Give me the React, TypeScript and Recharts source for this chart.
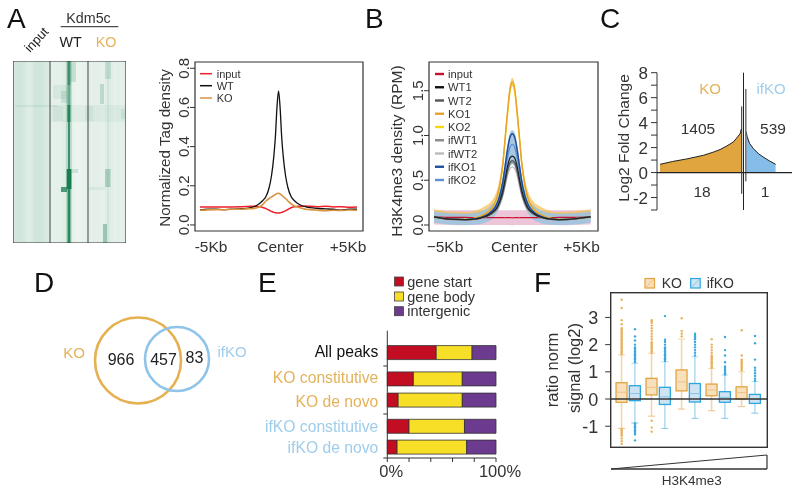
import React from 'react'
import {
  Area,
  AreaChart,
  Bar,
  BarChart,
  ComposedChart,
  Line,
  ReferenceArea,
  ReferenceLine,
  Scatter,
  ScatterChart,
  XAxis,
  YAxis,
} from 'recharts'

const FONT = '"Liberation Sans", Arial, sans-serif'
const KO_TEXT = '#E4B25A'
const IFKO_TEXT = '#9FCDEC'
const DARK = '#333'

// panel A heatmap, one shade per column plus darker patches
const heatColumns = [
  0.12, 0.14, 0.15, 0.15, 0.14, 0.13, 0.1, 0.09, 0.09, 0.1, 0.14, 0.15, 0.15, 0.15, 0.14, 0.13, 0.12, 0.1, 0.08,
  0.05, 0.06, 0.06, 0.06, 0.06, 0.07, 0.08, 0.1, 0.1, 0.1, 0.05, 0.04, 0.03, 0.03, 0.03, 0.04, 0.04, 0.05, 0.06,
  0.07, 0.06, 0.07, 0.06, 0.07, 0.06, 0.06, 0.06, 0.08, 0.15, 0.09, 0.07, 0.06, 0.06, 0.07, 0.06, 0.06, 0.07,
]
// x1, x2, y1, y2, shade
const heatPatches = [
  [53, 59, 0, 182, 0.16],
  [38, 113, 44, 61, 0.05],
  [40, 50, 45, 60, 0.05],
  [72, 80, 45, 60, 0.06],
  [108, 112, 48, 58, 0.09],
  [2, 45, 44.5, 45.5, 0.14],
  [40, 54, 24, 38, 0.07],
  [48, 54, 30, 42, 0.12],
  [57.5, 63, 1, 21, 0.16],
  [54.4, 57.4, 0, 24, 0.72],
  [54.4, 57.4, 24, 44, 0.45],
  [54.4, 57.4, 44, 61, 0.85],
  [55, 57, 61, 108, 0.72],
  [53.7, 58.4, 108, 128, 0.92],
  [54.6, 57.4, 128, 182, 0.82],
  [48, 54, 126, 131, 0.7],
  [58.5, 65, 108, 112, 0.14],
  [92, 98, 1, 18, 0.14],
  [87, 91, 23, 43, 0.18],
  [92, 97.5, 108, 126, 0.26],
  [90, 94, 163, 182, 0.34],
  [76, 92, 126, 129, 0.06],
]

// panel A profiles
const aX = [
  -5, -4.5, -4, -3.5, -3, -2.5, -2, -1.75, -1.5, -1.25, -1, -0.8, -0.6, -0.45, -0.3, -0.2, -0.1, 0, 0.1, 0.2, 0.3,
  0.45, 0.6, 0.8, 1, 1.25, 1.5, 1.75, 2, 2.5, 3, 3.5, 4, 4.5, 5,
]
const aInput = [
  0.092, 0.091, 0.092, 0.091, 0.092, 0.093, 0.094, 0.095, 0.096, 0.093, 0.089, 0.083, 0.075, 0.069, 0.064, 0.062,
  0.061, 0.061, 0.062, 0.064, 0.067, 0.072, 0.079, 0.088, 0.093, 0.096, 0.095, 0.097, 0.095, 0.093, 0.095, 0.092,
  0.093, 0.09, 0.092,
]
const aWT = [
  0.077, 0.08, 0.08, 0.078, 0.08, 0.082, 0.085, 0.088, 0.095, 0.107, 0.125, 0.145, 0.19, 0.25, 0.35, 0.45, 0.6,
  0.685, 0.6, 0.45, 0.35, 0.25, 0.19, 0.145, 0.125, 0.108, 0.098, 0.092, 0.088, 0.084, 0.082, 0.08, 0.076, 0.08, 0.08,
]
const aKO = [
  0.075, 0.077, 0.078, 0.077, 0.08, 0.08, 0.082, 0.083, 0.086, 0.09, 0.105, 0.122, 0.135, 0.143, 0.15, 0.155, 0.16,
  0.162, 0.158, 0.152, 0.145, 0.135, 0.122, 0.108, 0.097, 0.09, 0.085, 0.08, 0.078, 0.075, 0.073, 0.075, 0.074, 0.076,
  0.075,
]

// panel B profiles
const bX = [-5, -4, -3, -2.5, -2, -1.6, -1.3, -1, -0.8, -0.6, -0.45, -0.3, -0.15, 0, 0.15, 0.3, 0.45, 0.6, 0.8, 1, 1.3, 1.6, 2, 2.5, 3, 4, 5]
const bInput = [0.09, 0.085, 0.085, 0.083, 0.083, 0.083, 0.082, 0.082, 0.082, 0.082, 0.081, 0.082, 0.082, 0.08, 0.082, 0.082, 0.081, 0.082, 0.082, 0.082, 0.082, 0.083, 0.083, 0.083, 0.085, 0.085, 0.09]
const bWT1 = [0.09, 0.065, 0.06, 0.065, 0.08, 0.105, 0.14, 0.19, 0.27, 0.39, 0.52, 0.66, 0.75, 0.77, 0.75, 0.66, 0.52, 0.39, 0.27, 0.19, 0.14, 0.105, 0.08, 0.065, 0.06, 0.07, 0.09]
const bWT2 = [0.09, 0.065, 0.06, 0.064, 0.078, 0.1, 0.13, 0.18, 0.25, 0.36, 0.49, 0.62, 0.7, 0.72, 0.7, 0.62, 0.49, 0.36, 0.25, 0.18, 0.13, 0.1, 0.078, 0.064, 0.06, 0.07, 0.09]
const bKO1 = [0.09, 0.065, 0.06, 0.07, 0.1, 0.14, 0.19, 0.3, 0.45, 0.7, 0.99, 1.28, 1.52, 1.6, 1.52, 1.28, 0.99, 0.7, 0.45, 0.3, 0.19, 0.14, 0.1, 0.07, 0.06, 0.07, 0.09]
const bKO2 = [0.09, 0.066, 0.062, 0.072, 0.1, 0.14, 0.19, 0.29, 0.44, 0.68, 0.97, 1.25, 1.49, 1.57, 1.49, 1.25, 0.97, 0.68, 0.44, 0.29, 0.19, 0.14, 0.1, 0.072, 0.062, 0.07, 0.09]
const bIfWT1 = [0.09, 0.066, 0.06, 0.064, 0.077, 0.1, 0.13, 0.175, 0.245, 0.35, 0.47, 0.6, 0.68, 0.7, 0.68, 0.6, 0.47, 0.35, 0.245, 0.175, 0.13, 0.1, 0.077, 0.064, 0.06, 0.07, 0.09]
const bIfWT2 = [0.09, 0.066, 0.06, 0.063, 0.075, 0.095, 0.12, 0.165, 0.23, 0.33, 0.44, 0.56, 0.63, 0.65, 0.63, 0.56, 0.44, 0.33, 0.23, 0.165, 0.12, 0.095, 0.075, 0.063, 0.06, 0.07, 0.09]
const bIfKO1 = [0.09, 0.065, 0.06, 0.065, 0.085, 0.115, 0.155, 0.23, 0.33, 0.49, 0.67, 0.85, 0.98, 1.02, 0.98, 0.85, 0.67, 0.49, 0.33, 0.23, 0.155, 0.115, 0.085, 0.065, 0.06, 0.07, 0.09]
const bIfKO2 = [0.09, 0.065, 0.06, 0.065, 0.082, 0.11, 0.145, 0.21, 0.3, 0.44, 0.6, 0.76, 0.87, 0.9, 0.87, 0.76, 0.6, 0.44, 0.3, 0.21, 0.145, 0.11, 0.082, 0.065, 0.06, 0.07, 0.09]
const bKoLow = [0.075, 0.05, 0.045, 0.055, 0.08, 0.11, 0.15, 0.25, 0.39, 0.64, 0.93, 1.22, 1.47, 1.55, 1.47, 1.22, 0.93, 0.64, 0.39, 0.25, 0.15, 0.11, 0.08, 0.055, 0.045, 0.055, 0.075]
const bKoHigh = [0.175, 0.15, 0.145, 0.155, 0.185, 0.225, 0.275, 0.38, 0.52, 0.76, 1.05, 1.33, 1.57, 1.645, 1.57, 1.33, 1.05, 0.76, 0.52, 0.38, 0.275, 0.225, 0.185, 0.155, 0.145, 0.155, 0.175]
const bBlueLow = [0.025, 0.005, 0, 0.002, 0.01, 0.035, 0.065, 0.13, 0.2, 0.31, 0.44, 0.55, 0.65, 0.68, 0.65, 0.55, 0.44, 0.31, 0.2, 0.13, 0.065, 0.035, 0.01, 0.002, 0, 0.005, 0.025]
const bBlueHigh = [0.15, 0.13, 0.125, 0.13, 0.15, 0.185, 0.225, 0.29, 0.39, 0.55, 0.73, 0.91, 1.03, 1.06, 1.03, 0.91, 0.73, 0.55, 0.39, 0.29, 0.225, 0.185, 0.15, 0.13, 0.125, 0.13, 0.15]
const bInputLow = [0.005, 0, -0.002, 0, 0, 0, 0, 0, 0, 0, 0, 0, 0, -0.005, 0, 0, 0, 0, 0, 0, 0, 0, 0, 0, -0.002, 0, 0.005]
const bInputHigh = [0.165, 0.165, 0.165, 0.165, 0.165, 0.165, 0.165, 0.165, 0.165, 0.165, 0.165, 0.165, 0.165, 0.165, 0.165, 0.165, 0.165, 0.165, 0.165, 0.165, 0.165, 0.165, 0.165, 0.165, 0.165, 0.165, 0.165]

// panel C, signed gene rank out from the centre line
const cKoRank = [-1405, -1200, -956, -800, -676, -500, -395, -280, -171, -100, -59, -36]
const cKoFold = [0.66, 0.88, 1.09, 1.25, 1.38, 1.65, 1.84, 2.13, 2.45, 2.85, 3.1, 3.5]
const cIfkoRank = [44, 60, 100, 165, 250, 330, 430, 540]
const cIfkoFold = [3.3, 2.9, 2.35, 1.92, 1.52, 1.25, 0.95, 0.66]
const cKoSpike = [-1.7, 5.3]
const cIfkoSpike = [-0.7, 6.7]

// panel D, overlap circles
const vennX = [58, 97]
const vennY = [60.5, 59]
const vennR = [43, 32]

// panel E
const peakGroups = ['All peaks', 'KO constitutive', 'KO de novo', 'ifKO constitutive', 'ifKO de novo']
const geneStart = [45, 24, 10, 20, 9]
const geneBody = [33, 45, 59, 51, 64]
const intergenic = [22, 31, 31, 29, 27]

// panel F
const fGroups = [1, 2, 3, 4, 5]
const fKoQ1 = [-0.12, 0.15, 0.3, 0.12, 0]
const fKoMed = [0.25, 0.43, 0.63, 0.33, 0.24]
const fKoQ3 = [0.6, 0.76, 1.07, 0.55, 0.45]
const fKoLow = [-1.08, -0.63, -0.37, -0.43, -0.28]
const fKoHigh = [1.62, 1.68, 2.2, 1.13, 1.0]
const fIfkoQ1 = [-0.06, -0.2, -0.11, -0.12, -0.16]
const fIfkoMed = [0.2, 0.08, 0.2, 0.06, -0.01]
const fIfkoQ3 = [0.49, 0.43, 0.57, 0.27, 0.17]
const fIfkoLow = [-0.88, -1.08, -0.71, -0.71, -0.52]
const fIfkoHigh = [1.31, 1.37, 1.55, 0.88, 0.64]
const fKoOut = [
  [1.65, 1.7, 1.75, 1.8, 1.85, 1.9, 1.95, 2, 2.05, 2.1, 2.15, 2.2, 2.25, 2.3, 2.35, 2.4, 2.45, 2.5, 2.55, 2.6, 2.75, 2.9, 3.35, 3.65, -1.1, -1.15, -1.2, -1.25, -1.3, -1.35, -1.45, -1.55, -1.65],
  [1.7, 1.75, 1.8, 1.85, 1.9, 1.95, 2, 2.05, 2.1, 2.2, 2.3, 2.4, 2.5, 2.6, 2.7, 2.8, 2.85, 2.9, -0.8, -1.05, -1.2],
  [2.3, 2.4, 2.5, 2.97],
  [1.15, 1.2, 1.25, 1.3, 1.35, 1.4, 1.45, 1.5, 1.55, 1.6, 1.7, 1.8, 1.9, 2, 2.2],
  [1.05, 1.1, 1.15, 1.2, 1.25, 1.3, 1.35, 1.4, 1.45, 1.6, 2.53],
]
const fIfkoOut = [
  [1.35, 1.4, 1.45, 1.5, 1.55, 1.6, 1.65, 1.7, 1.75, 1.8, 1.85, 1.9, 2, 2.15, 2.3, 2.57, -0.9, -0.95, -1, -1.05, -1.1, -1.15, -1.2, -1.25, -1.3, -1.52],
  [1.4, 1.45, 1.5, 1.55, 1.6, 1.65, 1.7, 1.75, 1.8, 1.85, 1.9, 2, 2.1, 2.18, 3.05],
  [1.6, 1.7, 1.8, 1.9, 2, 2.1, 2.2, 2.25, 2.3, 2.35, 2.4],
  [0.9, 0.95, 1, 1.05, 1.1, 1.15, 1.2, 1.35, 1.6, 1.8, 2.28],
  [0.67, 0.75, 0.85, 0.95, 1.05, 1.15, 1.45, 2.05, 2.32],
]
const gradientX = [0, 1]
const gradientY = [0, 1]

const aRows = aX.map((x, i) => ({ x, input: aInput[i], wt: aWT[i], ko: aKO[i] }))

const bRows = bX.map((x, i) => ({
  x,
  input: bInput[i],
  wt1: bWT1[i],
  wt2: bWT2[i],
  ko1: bKO1[i],
  ko2: bKO2[i],
  ifwt1: bIfWT1[i],
  ifwt2: bIfWT2[i],
  ifko1: bIfKO1[i],
  ifko2: bIfKO2[i],
  inputBand: [bInputLow[i], bInputHigh[i]],
  koBand: [bKoLow[i], bKoHigh[i]],
  blueBand: [bBlueLow[i], bBlueHigh[i]],
}))

const cRows = [
  ...cKoRank.map((x, i) => ({ x, ko: cKoFold[i], ifko: null as number | null })),
  ...cIfkoRank.map((x, i) => ({ x, ko: null as number | null, ifko: cIfkoFold[i] })),
]

const vennRows = vennX.map((x, i) => ({ x, y: vennY[i], r: vennR[i], color: i === 0 ? '#E5B04F' : '#8FC4EA' }))

// row centres are laid out in px below the top of the axis, the groups sit closer together
const E_ROW_Y = [22.3, 48.6, 69.8, 96, 116.8]
const E_SPLIT_Y = [35.3, 83.3, 127.3]
const E_LABEL_DY = [4.3, 4, 6, 5, 5]
const E_LABEL_COLOR = ['#111', KO_TEXT, KO_TEXT, IFKO_TEXT, IFKO_TEXT]
const eRows = peakGroups.map((name, i) => ({
  name,
  row: E_ROW_Y[i],
  start: geneStart[i],
  body: geneBody[i],
  inter: intergenic[i],
}))

const DODGE = 0.222
const fBoxes = fGroups.flatMap((g, i) => [
  { pos: g - DODGE, range: [fKoQ1[i], fKoQ3[i]], med: fKoMed[i], low: fKoLow[i], high: fKoHigh[i], ko: true },
  { pos: g + DODGE, range: [fIfkoQ1[i], fIfkoQ3[i]], med: fIfkoMed[i], low: fIfkoLow[i], high: fIfkoHigh[i], ko: false },
])
const fKoDots = fGroups.flatMap((g, i) => fKoOut[i].map((v) => ({ pos: g - DODGE, v })))
const fIfkoDots = fGroups.flatMap((g, i) => fIfkoOut[i].map((v) => ({ pos: g + DODGE, v })))

const gradientRows = gradientX.map((x, i) => ({ x, y: gradientY[i] }))

function Place({ left, top, width, height, children }: any) {
  return <div style={{ position: 'absolute', left, top, width, height }}>{children}</div>
}

// rotated R style tick, draws its own tick mark
function RotatedTick({ x, y, payload }: any) {
  return (
    <g>
      <line x1={x + 1} x2={x + 6} y1={y} y2={y} stroke={DARK} strokeWidth={1} />
      <text x={x} y={y} transform={`rotate(-90 ${x} ${y})`} textAnchor="middle" fontSize={15} fill={DARK} fontFamily={FONT}>
        {payload.value.toFixed(1)}
      </text>
    </g>
  )
}

// the three labels under the profile plots sit off their nominal positions
function ProfileXTick({ x, y, payload, minus }: any) {
  const v = payload.value
  const label = v < 0 ? `${minus}5Kb` : v > 0 ? '+5Kb' : 'Center'
  const dx = v < 0 ? 11 : v > 0 ? -9 : 2
  return (
    <text x={x + dx} y={y + 13} textAnchor="middle" fontSize={15.5} fill={DARK} fontFamily={FONT}>
      {label}
    </text>
  )
}

function HeatPanel() {
  return (
    <ComposedChart width={113} height={182} data={heatColumns.map((v, i) => ({ c: i, v }))} margin={{ top: 0, right: 0, bottom: 0, left: 0 }}>
      <XAxis hide type="number" dataKey="c" domain={[0, 113]} allowDataOverflow />
      <YAxis hide type="number" domain={[0, 182]} reversed allowDataOverflow />
      {heatColumns.map((v, i) => (
        <ReferenceArea key={i} x1={i * 2} x2={i * 2 + 2} y1={0} y2={182} fill="#0b7d4a" fillOpacity={v} stroke="none" />
      ))}
      {heatPatches.map((p, i) => (
        <ReferenceArea key={i} x1={p[0]} x2={p[1]} y1={p[2]} y2={p[3]} fill="#0b7546" fillOpacity={p[4]} stroke="none" />
      ))}
      <ReferenceLine x={37} stroke="#444" strokeWidth={1} />
      <ReferenceLine x={75} stroke="#444" strokeWidth={1} />
      <ReferenceArea x1={0} x2={113} y1={0} y2={182} fill="none" stroke="#333" strokeWidth={1.2} />
    </ComposedChart>
  )
}

function PanelAProfile() {
  const xd: [number, number] = [-5.32, 5.38]
  const yd: [number, number] = [-0.031, 0.832]
  return (
    <ComposedChart width={230} height={210} data={aRows} margin={{ top: 12, right: 17, bottom: 0, left: 0 }}>
      <XAxis
        type="number"
        dataKey="x"
        domain={xd}
        ticks={[-5, 0, 5]}
        axisLine={false}
        tickLine={false}
        height={29}
        allowDataOverflow
        tick={(p: any) => <ProfileXTick {...p} minus="-" />}
      />
      <YAxis
        type="number"
        width={45}
        domain={yd}
        ticks={[0, 0.2, 0.4, 0.6, 0.8]}
        axisLine={false}
        tickLine={false}
        tickSize={5}
        tickMargin={1}
        allowDataOverflow
        tick={(p: any) => <RotatedTick {...p} />}
      />
      <ReferenceArea x1={xd[0]} x2={xd[1]} y1={yd[0]} y2={yd[1]} fill="none" stroke={DARK} strokeWidth={1.2} />
      <Line dataKey="input" type="monotone" stroke="#F0202A" strokeWidth={1.5} dot={false} isAnimationActive={false} />
      <Line dataKey="wt" type="monotone" stroke="#111" strokeWidth={1.3} dot={false} isAnimationActive={false} />
      <Line dataKey="ko" type="monotone" stroke="#D9933F" strokeWidth={1.6} dot={false} isAnimationActive={false} />
    </ComposedChart>
  )
}

function PanelBProfile() {
  const xd: [number, number] = [-5.32, 5.47]
  const yd: [number, number] = [-0.067, 1.821]
  const line = (key: string, color: string, w = 1.4) => (
    <Line dataKey={key} type="monotone" stroke={color} strokeWidth={w} dot={false} isAnimationActive={false} />
  )
  const band = (key: string, color: string, o: number) => (
    <Area dataKey={key} type="monotone" fill={color} fillOpacity={o} stroke="none" isAnimationActive={false} />
  )
  return (
    <ComposedChart width={230} height={210} data={bRows} margin={{ top: 12, right: 22, bottom: 0, left: 0 }}>
      <XAxis
        type="number"
        dataKey="x"
        domain={xd}
        ticks={[-5, 0, 5]}
        axisLine={false}
        tickLine={false}
        height={29}
        allowDataOverflow
        tick={(p: any) => <ProfileXTick {...p} minus="−" />}
      />
      <YAxis
        type="number"
        width={39}
        domain={yd}
        ticks={[0, 0.5, 1, 1.5]}
        axisLine={false}
        tickLine={false}
        tickSize={5}
        tickMargin={1}
        allowDataOverflow
        tick={(p: any) => <RotatedTick {...p} />}
      />
      {band('inputBand', '#DFA0BE', 0.6)}
      {line('input', '#C8102E', 1.2)}
      {band('koBand', '#F2C04E', 0.7)}
      {band('blueBand', '#9FC3DD', 0.92)}
      {line('ko2', '#F5D90A', 1.4)}
      {line('ko1', '#E8A030', 1.4)}
      {line('ifko2', '#5B8FD6', 1.3)}
      {line('ifko1', '#1F4E9E', 1.5)}
      {line('ifwt2', '#BBBBBB', 1.3)}
      {line('ifwt1', '#8A8A8A', 1.3)}
      {line('wt2', '#555555', 1.3)}
      {line('wt1', '#222222', 1.2)}
      <ReferenceArea x1={xd[0]} x2={xd[1]} y1={yd[0]} y2={yd[1]} fill="none" stroke={DARK} strokeWidth={1.2} />
    </ComposedChart>
  )
}

function PanelC() {
  return (
    <AreaChart width={185} height={160} data={cRows} margin={{ top: 12.7, right: 3, bottom: 10, left: 0 }}>
      <XAxis hide type="number" dataKey="x" domain={[-1456, 816]} allowDataOverflow />
      <YAxis
        type="number"
        width={47}
        domain={[-3, 8]}
        ticks={[-3, -2, -1, 0, 1, 2, 3, 4, 5, 6, 7, 8]}
        interval={0}
        axisLine={false}
        tickLine={false}
        tickSize={6}
        tickMargin={3}
        allowDataOverflow
        tick={({ x, y, payload }: any) => (
          <g>
            <line x1={x + 3} x2={x + 9} y1={y} y2={y} stroke={DARK} strokeWidth={1} />
            {payload.value % 2 === 0 ? (
              <text x={x} y={y + 6} textAnchor="end" fontSize={17} fill={DARK} fontFamily={FONT}>
                {payload.value}
              </text>
            ) : null}
          </g>
        )}
      />
      <Area dataKey="ko" type="linear" fill="#E0A53E" fillOpacity={1} stroke="#222" strokeWidth={1} baseValue={0} dot={false} isAnimationActive={false} />
      <Area dataKey="ifko" type="linear" fill="#84BDE8" fillOpacity={1} stroke="#222" strokeWidth={1} baseValue={0} dot={false} isAnimationActive={false} />
      <ReferenceLine x={-1456} stroke={DARK} strokeWidth={1} />
      <ReferenceLine
        segment={[
          { x: -30, y: cKoSpike[0] },
          { x: -30, y: cKoSpike[1] },
        ]}
        stroke="#222"
        strokeWidth={1}
      />
      <ReferenceLine
        segment={[
          { x: 38, y: cIfkoSpike[0] },
          { x: 38, y: cIfkoSpike[1] },
        ]}
        stroke="#777"
        strokeWidth={1.6}
      />
      <ReferenceLine x={0} stroke="#222" strokeWidth={1} />
      <ReferenceLine y={0} stroke="#222" strokeWidth={1.2} />
    </AreaChart>
  )
}

function PanelD() {
  return (
    <ScatterChart width={140} height={120} margin={{ top: 0, right: 0, bottom: 0, left: 0 }}>
      <XAxis hide type="number" dataKey="x" domain={[0, 140]} />
      <YAxis hide type="number" dataKey="y" domain={[0, 120]} reversed />
      <Scatter
        data={vennRows}
        isAnimationActive={false}
        shape={(p: any) => <circle cx={p.cx} cy={p.cy} r={p.payload.r} fill="none" stroke={p.payload.color} strokeWidth={2.6} />}
      />
    </ScatterChart>
  )
}

function PanelE() {
  const yd: [number, number] = [0, 127.3]
  return (
    <BarChart
      layout="vertical"
      width={290}
      height={160}
      data={eRows}
      barSize={14}
      margin={{ top: 10.7, right: 34, bottom: 0, left: 0 }}
    >
      <XAxis
        type="number"
        domain={[0, 100]}
        ticks={[0, 20, 40, 60, 80, 100]}
        interval={0}
        height={22}
        stroke={DARK}
        tickSize={4}
        tick={({ x, y, payload }: any) =>
          payload.value === 0 || payload.value === 100 ? (
            <text x={x + 4} y={y + 13} textAnchor="middle" fontSize={16.5} fill={DARK} fontFamily={FONT}>
              {payload.value}%
            </text>
          ) : (
            <g />
          )
        }
      />
      <YAxis
        type="number"
        dataKey="row"
        width={147.3}
        domain={yd}
        ticks={[...E_ROW_Y, ...E_SPLIT_Y]}
        interval={0}
        axisLine={false}
        tickLine={false}
        tickSize={0}
        tickMargin={0}
        allowDataOverflow
        tick={({ x, y, payload }: any) => {
          const i = E_ROW_Y.indexOf(payload.value)
          if (i < 0) return <line x1={x - 4} x2={x} y1={y} y2={y} stroke={DARK} />
          return (
            <text x={x - 9} y={y + E_LABEL_DY[i]} textAnchor="end" fontSize={15.7} fill={E_LABEL_COLOR[i]} fontFamily={FONT}>
              {peakGroups[i]}
            </text>
          )
        }}
      />
      <Bar dataKey="start" stackId="a" fill="#C20D23" stroke="#333" strokeWidth={0.8} isAnimationActive={false} />
      <Bar dataKey="body" stackId="a" fill="#F7DE27" stroke="#333" strokeWidth={0.8} isAnimationActive={false} />
      <Bar dataKey="inter" stackId="a" fill="#6C3A8E" stroke="#333" strokeWidth={0.8} isAnimationActive={false} />
      <ReferenceLine x={0} stroke={DARK} strokeWidth={1} />
    </BarChart>
  )
}

function BoxShape({ x, y, width, height, payload }: any) {
  const [q1, q3] = payload.range
  const h = Math.abs(height)
  const top = height < 0 ? y + height : y
  const unit = h / (q3 - q1)
  const cx = x + width / 2
  const medY = top + (q3 - payload.med) * unit
  const hiY = top - (payload.high - q3) * unit
  const loY = top + h + (q1 - payload.low) * unit
  const edge = payload.ko ? '#E3A33E' : '#2BA6DE'
  const whisk = payload.ko ? '#F1D6AC' : '#B7DDF1'
  const fill = payload.ko ? '#F8E0BD' : '#CFE4F2'
  const med = payload.ko ? '#ECC187' : '#8CC4E6'
  return (
    <g>
      <line x1={cx} x2={cx} y1={hiY} y2={top} stroke={whisk} strokeWidth={1.6} />
      <line x1={cx} x2={cx} y1={top + h} y2={loY} stroke={whisk} strokeWidth={1.6} />
      <line x1={cx - 3.5} x2={cx + 3.5} y1={hiY} y2={hiY} stroke={whisk} />
      <line x1={cx - 3.5} x2={cx + 3.5} y1={loY} y2={loY} stroke={med} />
      <rect x={x} y={top} width={width} height={h} fill={fill} stroke={edge} strokeWidth={1.3} />
      <line x1={x} x2={x + width} y1={medY} y2={medY} stroke={med} strokeWidth={1} />
    </g>
  )
}

function PanelF() {
  const xd: [number, number] = [0.412, 5.63]
  const yd: [number, number] = [-1.775, 3.91]
  return (
    <ComposedChart width={202} height={175} data={fBoxes} barSize={11} margin={{ top: 12.7, right: 4.7, bottom: 7.7, left: 0 }}>
      <XAxis hide type="number" dataKey="pos" domain={xd} allowDataOverflow />
      <YAxis
        type="number"
        width={40.7}
        domain={yd}
        ticks={[-1, 0, 1, 2, 3]}
        interval={0}
        axisLine={false}
        tickLine={false}
        tickSize={5.5}
        tickMargin={7}
        allowDataOverflow
        tick={({ x, y, payload }: any) => (
          <g>
            <line x1={x + 7} x2={x + 12.5} y1={y} y2={y} stroke={DARK} strokeWidth={1} />
            <text x={x} y={y + 6.5} textAnchor="end" fontSize={18} fill={DARK} fontFamily={FONT}>
              {payload.value}
            </text>
          </g>
        )}
      />
      <Scatter data={fKoDots} dataKey="v" fill="#E9B263" isAnimationActive={false} shape={(p: any) => <circle cx={p.cx} cy={p.cy} r={1.2} fill="#E9B263" />} />
      <Scatter data={fIfkoDots} dataKey="v" fill="#39A9DF" isAnimationActive={false} shape={(p: any) => <circle cx={p.cx} cy={p.cy} r={1.2} fill="#39A9DF" />} />
      <Bar dataKey="range" isAnimationActive={false} shape={(p: any) => <BoxShape {...p} />} />
      <ReferenceLine y={0} stroke="#333" strokeWidth={1.4} />
    </ComposedChart>
  )
}

function PanelFGradient() {
  return (
    <AreaChart width={158} height={16} data={gradientRows} margin={{ top: 1, right: 1, bottom: 1, left: 1 }}>
      <XAxis hide type="number" dataKey="x" domain={[0, 1]} />
      <YAxis hide type="number" domain={[0, 1]} />
      <Area dataKey="y" type="linear" fill="#fff" stroke="#333" strokeWidth={1} isAnimationActive={false} />
      <ReferenceLine x={1} stroke="#333" strokeWidth={1.2} />
      <ReferenceLine y={0} stroke="#333" strokeWidth={1.4} />
    </AreaChart>
  )
}

function T({ x, y, size = 15, color = DARK, anchor = 'start', rotate, children }: any) {
  return (
    <text
      x={x}
      y={y}
      fontSize={size}
      fill={color}
      textAnchor={anchor}
      fontFamily={FONT}
      transform={rotate ? `rotate(${rotate} ${x} ${y})` : undefined}
    >
      {children}
    </text>
  )
}

const aLegend = [
  ['input', '#F0202A', 73.7],
  ['WT', '#111', 85.7],
  ['KO', '#D9933F', 98],
] as const
const bLegend = [
  ['input', '#C8102E'],
  ['WT1', '#111'],
  ['WT2', '#555'],
  ['KO1', '#E8A030'],
  ['KO2', '#F5D90A'],
  ['ifWT1', '#8A8A8A'],
  ['ifWT2', '#BBB'],
  ['ifKO1', '#1F4E9E'],
  ['ifKO2', '#5B8FD6'],
] as const
const eLegend = [
  ['gene start', '#C20D23', 277],
  ['gene body', '#F7DE27', 292],
  ['intergenic', '#6C3A8E', 306.7],
] as const

function Annotations() {
  return (
    <svg width={800} height={493} style={{ position: 'absolute', left: 0, top: 0, pointerEvents: 'none' }}>
      <T x={7} y={28} size={28} color="#111">A</T>
      <T x={365} y={28} size={28} color="#111">B</T>
      <T x={600} y={28} size={28} color="#111">C</T>
      <T x={34} y={292} size={28} color="#111">D</T>
      <T x={258} y={292} size={28} color="#111">E</T>
      <T x={534} y={292} size={28} color="#111">F</T>

      <T x={88.5} y={23} size={14.3} anchor="middle">Kdm5c</T>
      <line x1={60.7} x2={118.3} y1={26.7} y2={26.7} stroke="#222" strokeWidth={1} />
      <T x={70.7} y={47} size={14.3} anchor="middle" color="#222">WT</T>
      <T x={106} y={47} size={14.3} anchor="middle" color={KO_TEXT}>KO</T>
      <T x={30} y={53} size={13} rotate={-47} color="#222">input</T>

      <T x={170} y={148} size={15.2} anchor="middle" rotate={-90}>Normalized Tag density</T>
      {aLegend.map(([name, color, y]) => (
        <g key={name}>
          <line x1={200} x2={212} y1={y} y2={y} stroke={color} strokeWidth={1.5} />
          <T x={216.7} y={y + 4} size={11}>{name}</T>
        </g>
      ))}

      <T x={402} y={151} size={15.5} anchor="middle" rotate={-90}>H3K4me3 density (RPM)</T>
      {bLegend.map(([name, color], i) => (
        <g key={name}>
          <line x1={435} x2={444} y1={74 + i * 13.25} y2={74 + i * 13.25} stroke={color} strokeWidth={2.4} />
          <T x={448} y={78 + i * 13.25} size={11.2}>{name}</T>
        </g>
      ))}

      <T x={629} y={138} size={15.5} anchor="middle" rotate={-90}>Log2 Fold Change</T>
      <T x={710} y={94} size={15} anchor="middle" color={KO_TEXT}>KO</T>
      <T x={771} y={94} size={15} anchor="middle" color={IFKO_TEXT}>ifKO</T>
      <T x={698} y={134} size={15.5} anchor="middle">1405</T>
      <T x={773} y={134} size={15.5} anchor="middle">539</T>
      <T x={702} y={197} size={15.5} anchor="middle">18</T>
      <T x={765} y={197} size={15.5} anchor="middle">1</T>

      <T x={74} y={358} size={15} anchor="middle" color={KO_TEXT}>KO</T>
      <T x={232} y={357} size={15} anchor="middle" color={IFKO_TEXT}>ifKO</T>
      <T x={121} y={365} size={16} anchor="middle" color="#222">966</T>
      <T x={163.5} y={365} size={16} anchor="middle" color="#222">457</T>
      <T x={194.5} y={363} size={16} anchor="middle" color="#222">83</T>

      {eLegend.map(([name, color, y]) => (
        <g key={name}>
          <rect x={394.5} y={y} width={9} height={9} fill={color} stroke="#444" strokeWidth={0.8} />
          <T x={407.3} y={y + 9.5} size={14.5}>{name}</T>
        </g>
      ))}

      <rect x={645} y={278.5} width={9.5} height={9.5} fill="#F8DFBA" stroke="#E3A33E" strokeWidth={1.2} />
      <line x1={645.5} x2={654} y1={287.5} y2={279} stroke="#EFC48B" />
      <T x={661.7} y={287.5} size={14}>KO</T>
      <rect x={690.7} y={278.5} width={9.5} height={9.5} fill="#CFE4F2" stroke="#2BA6DE" strokeWidth={1.2} />
      <line x1={691.2} x2={699.7} y1={287.5} y2={279} stroke="#8CC4E6" />
      <T x={706.7} y={287.5} size={14}>ifKO</T>

      <rect x={610.7} y={292.7} width={156.6} height={154.6} fill="none" stroke={DARK} strokeWidth={1.4} />

      <T x={558} y={370} size={16.5} anchor="middle" rotate={-90}>ratio norm</T>
      <T x={580} y={368} size={16.5} anchor="middle" rotate={-90}>signal (log2)</T>
      <T x={691.7} y={485} size={13.5} anchor="middle">H3K4me3</T>
    </svg>
  )
}

export default function App() {
  return (
    <div
      style={{
        position: 'absolute',
        left: 0,
        top: 0,
        width: 800,
        height: 493,
        background: '#fff',
        overflow: 'hidden',
        filter: 'blur(0.3px)',
      }}
    >
      <Place left={13} top={61} width={113} height={182}>
        <div style={{ position: 'absolute', inset: 0, background: '#F3F8F5' }} />
        <div style={{ position: 'absolute', inset: 0 }}>
          <HeatPanel />
        </div>
      </Place>
      <Place left={150} top={50} width={230} height={210}>
        <PanelAProfile />
      </Place>
      <Place left={390} top={50} width={230} height={210}>
        <PanelBProfile />
      </Place>
      <Place left={610} top={60} width={185} height={160}>
        <PanelC />
      </Place>
      <Place left={80} top={300} width={140} height={120}>
        <PanelD />
      </Place>
      <Place left={240} top={320} width={290} height={160}>
        <PanelE />
      </Place>
      <Place left={570} top={280} width={202} height={175}>
        <PanelF />
      </Place>
      <Place left={610} top={454} width={158} height={16}>
        <PanelFGradient />
      </Place>
      <Annotations />
    </div>
  )
}
